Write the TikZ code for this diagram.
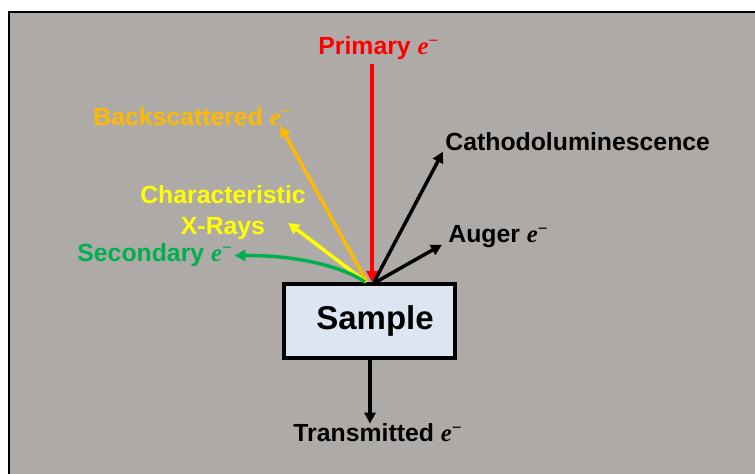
\documentclass[tikz,border=0pt]{standalone}
\usepackage{fontspec}
\setmainfont{Liberation Sans}
\newfontfamily\eserif{Liberation Serif}
\usetikzlibrary{arrows.meta}
\definecolor{panelgray}{RGB}{174,170,168}
\definecolor{samplefill}{RGB}{220,230,242}
\definecolor{beamred}{RGB}{255,0,0}
\definecolor{bsegold}{RGB}{255,185,0}
\definecolor{xrayyellow}{RGB}{255,255,0}
\definecolor{segreen}{RGB}{0,176,80}
\newcommand{\elec}{{\eserif\itshape e}\textsuperscript{\eserif −}}
\tikzset{
  lbl/.style={font=\fontsize{12.4}{15.5}\selectfont\bfseries, inner sep=0pt, anchor=base west},
  ray/.style={-{Triangle[length=5.5pt,width=5.5pt]}, line width=1.75pt},
  samplebox/.style={draw=black, line width=2pt, fill=samplefill,
                    minimum width=85.5pt, minimum height=37pt, inner sep=0pt,
                    font=\fontsize{16.5}{20}\selectfont\bfseries},
}

\begin{document}
\begin{tikzpicture}[x=0.5pt, y=-0.5pt]
\useasboundingbox (0,0) rectangle (755,474);

% --- panel ---
\draw[fill=panelgray, draw=black, line width=0.8pt] (9,12) rectangle (760,480);

% --- sample ---
\node[samplebox] (sample) at (369.5,321) {\hspace*{5.5pt}Sample};
\coordinate (hit) at (369,282);

% --- labels ---
\node[lbl, text=beamred]    (primary) at (318,55)  {Primary \elec};
\node[lbl, text=bsegold]    (backsc)  at (93,126)  {Backscattered \elec};
\node[lbl, text=xrayyellow, align=center, anchor=north, text depth=1.5pt] (xray) at (223,185.5)
    {Characteristic\\X-Rays};
\node[lbl, text=segreen]    (second)  at (77,262)  {Secondary \elec};
\node[lbl]                  (cathodo) at (445,151) {Cathodoluminescence};
\node[lbl]                  (auger)   at (448,243) {Auger \elec};
\node[lbl]                  (transm)  at (293,442) {Transmitted \elec};

% --- emitted signals ---
\draw[ray, bsegold]    ([xshift=-1pt]hit) -- ([xshift=-6pt,yshift=0.5pt]backsc.south east);
\draw[ray, xrayyellow] ([xshift=-1.5pt]hit) -- ([xshift=-9pt,yshift=-5.5pt]xray.east);
\draw[ray, segreen]    ([xshift=-2pt]hit) .. controls (345,268) and (300,255) .. ([xshift=0.5pt]second.east);
\draw[ray, black]      ([xshift=2.5pt]hit) -- ([xshift=-1pt]cathodo.south west);
\draw[ray, black]      ([xshift=3.5pt]hit) -- ([xshift=-3pt,yshift=2pt]auger.south west);

% --- beam in, beam out ---
\draw[ray, beamred] ([xshift=27pt,yshift=-1.5pt]primary.south west) -- ([xshift=1.5pt]hit);
\draw[ray, black]   ([xshift=0.25pt]sample.south) -- ([xshift=38.5pt]transm.north west);

\end{tikzpicture}
\end{document}
